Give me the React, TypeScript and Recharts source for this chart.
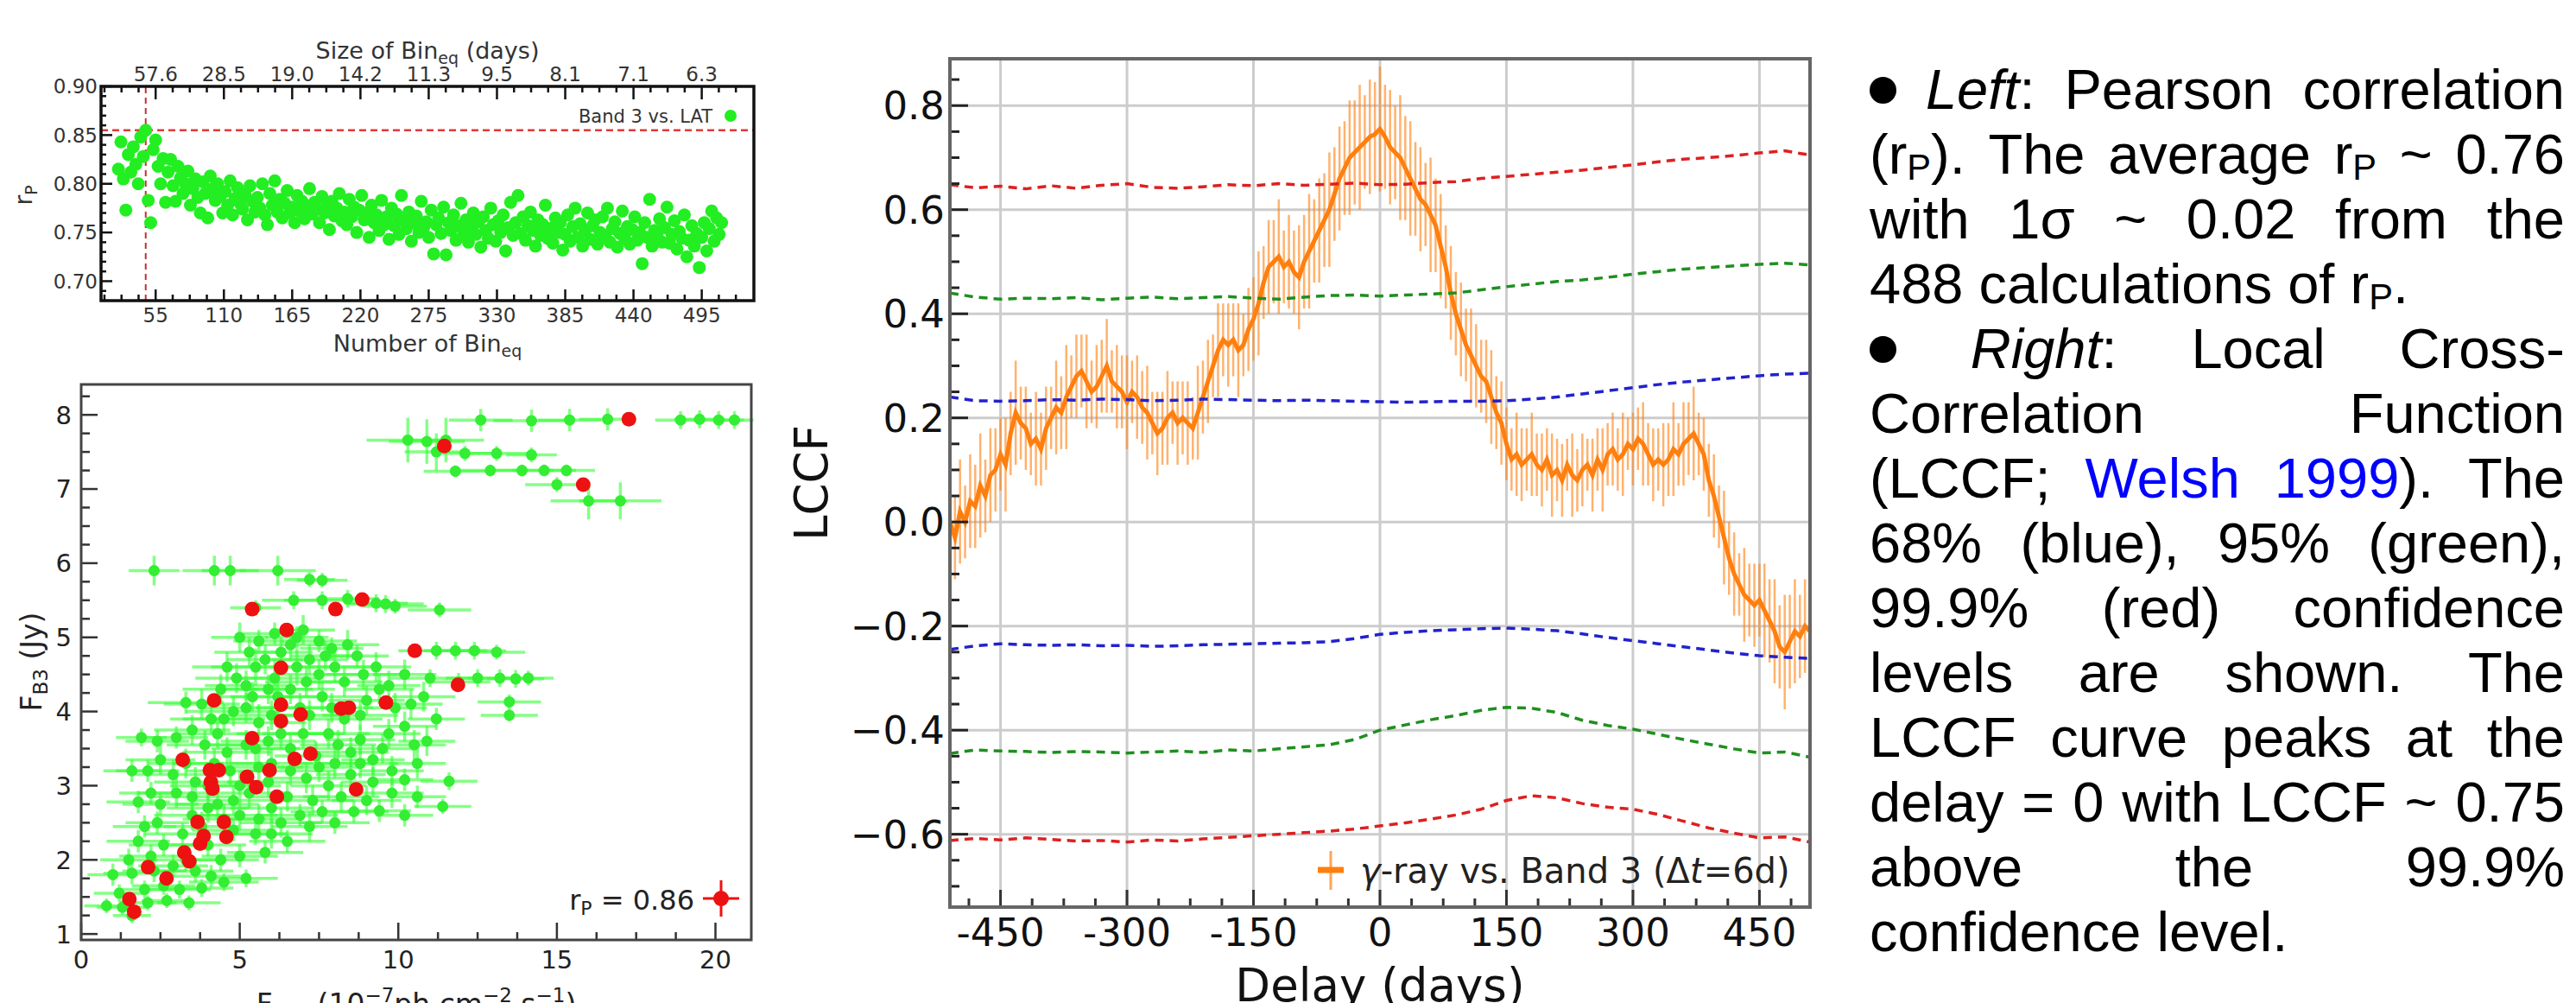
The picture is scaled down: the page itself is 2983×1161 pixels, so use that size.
import React from "react";
import {
  CartesianGrid,
  ComposedChart,
  ErrorBar,
  Line,
  ReferenceLine,
  Scatter,
  ScatterChart,
  XAxis,
  YAxis,
} from "recharts";

const MPL = "DejaVu Sans";
const SANS = "Liberation Sans, Arial, sans-serif";

// ---------- top-left: Pearson r_P vs number of equal bins ----------
const BIN_N_START = 25;
const BIN_N_STEP = 2;
// r_P in thousandths, one per N = 25, 27, ... 511
const RP_MILLI = [
  815, 843, 805, 773, 830, 812, 838, 820, 800, 848, 828, 855, 783, 760, 835, 845, 818, 800, 826, 781,
  812, 825, 798, 782, 818, 806, 790, 800, 813, 778, 795, 805, 786, 770, 802, 790, 765, 808, 795, 783,
  800, 787, 770, 792, 778, 803, 768, 785, 796, 780, 774, 789, 763, 798, 782, 771, 786, 775, 800, 768,
  758, 790, 778, 803, 771, 784, 765, 780, 793, 770, 776, 760, 788, 772, 782, 764, 777, 795, 769, 781,
  774, 760, 787, 770, 778, 753, 782, 767, 775, 790, 762, 771, 758, 784, 766, 776, 750, 773, 788, 763,
  770, 745, 778, 760, 768, 752, 783, 758, 766, 743, 775, 757, 769, 748, 788, 762, 754, 771, 741, 760,
  767, 750, 782, 755, 761, 745, 773, 728, 758, 765, 749, 776, 727, 760, 752, 768, 742, 757, 780, 748,
  763, 740, 756, 770, 748, 761, 735, 766, 752, 744, 775, 758, 741, 762, 750, 768, 731, 755, 781, 747,
  760, 788, 749, 766, 742, 757, 771, 752, 736, 763, 747, 758, 778, 744, 754, 739, 765, 750, 760, 732,
  748, 768, 741, 756, 775, 745, 759, 736, 752, 770, 743, 757, 763, 738, 750, 766, 747, 775, 740, 754,
  761, 735, 749, 772, 744, 756, 738, 753, 766, 742, 750, 718, 760, 745, 784, 736, 752, 747, 764, 740,
  755, 776, 739, 748, 762, 733, 751, 744, 768, 725, 742, 757, 736, 749, 714, 745, 760, 731, 754, 772,
  741, 765, 748, 760,
];
const RP_PEAK_N = 47;
const RP_PEAK = 0.855;
const BIN_MAJOR = [55, 110, 165, 220, 275, 330, 385, 440, 495];
const BIN_DAYS_LABELS = ["57.6", "28.5", "19.0", "14.2", "11.3", "9.5", "8.1", "7.1", "6.3"];
const RP_MAJOR = [0.7, 0.75, 0.8, 0.85, 0.9];

// ---------- bottom-left: F_B3 vs F_LAT ----------
// x, y, xerr, yerr
const FLUX_GREEN: [number, number, number, number][] = [
  [12.6, 7.93, 1.0, 0.15], [14.2, 7.92, 1.2, 0.15], [15.4, 7.93, 1.0, 0.15], [16.6, 7.94, 0.9, 0.15],
  [18.9, 7.93, 0.8, 0.12], [19.5, 7.94, 0.8, 0.12], [20.1, 7.93, 0.8, 0.12], [20.6, 7.93, 0.6, 0.12],
  [10.3, 7.66, 1.3, 0.3], [10.9, 7.64, 1.2, 0.3], [11.5, 7.66, 1.2, 0.3], [11.2, 7.5, 1.0, 0.25],
  [12.1, 7.48, 1.0, 0.1], [13.1, 7.48, 1.0, 0.1], [14.2, 7.46, 0.8, 0.1],
  [11.8, 7.24, 1.0, 0.08], [12.9, 7.25, 1.2, 0.08], [13.9, 7.25, 1.0, 0.08], [14.6, 7.25, 1.0, 0.08],
  [15.3, 7.25, 0.9, 0.08], [15.0, 7.06, 1.0, 0.1], [16.0, 6.84, 1.2, 0.25], [17.0, 6.84, 1.3, 0.25],
  [2.3, 5.9, 0.8, 0.2], [4.2, 5.9, 1.0, 0.2], [4.7, 5.9, 0.9, 0.2], [6.2, 5.9, 1.2, 0.2],
  [7.2, 5.78, 0.8, 0.1], [7.6, 5.77, 0.8, 0.1],
  [6.7, 5.5, 1.0, 0.12], [7.6, 5.5, 1.2, 0.12], [8.4, 5.52, 1.0, 0.12], [9.3, 5.46, 1.0, 0.12],
  [9.6, 5.45, 1.2, 0.12], [9.9, 5.42, 1.0, 0.1], [5.5, 5.4, 0.8, 0.1], [11.3, 5.37, 1.0, 0.1],
  [6.1, 5.05, 1.0, 0.15], [6.8, 5.0, 1.0, 0.15], [7.5, 4.95, 1.2, 0.15], [5.6, 4.95, 0.8, 0.15],
  [7.9, 4.85, 1.0, 0.15], [11.2, 4.82, 1.2, 0.12], [11.8, 4.82, 1.0, 0.12], [12.4, 4.82, 1.0, 0.12],
  [13.1, 4.8, 0.9, 0.1], [11.0, 4.45, 1.3, 0.12], [11.9, 4.4, 1.0, 0.12], [12.5, 4.45, 1.0, 0.12],
  [13.2, 4.45, 1.0, 0.12], [13.7, 4.44, 0.9, 0.12], [14.1, 4.45, 0.8, 0.1], [13.5, 4.13, 1.0, 0.1],
  [13.5, 3.95, 0.9, 0.08],
  [0.8, 1.38, 0.7, 0.1], [1.3, 1.36, 0.8, 0.1], [1.6, 1.25, 0.6, 0.1], [2.1, 1.42, 0.9, 0.1],
  [2.7, 1.45, 0.8, 0.1], [3.4, 1.42, 1.0, 0.1], [1.0, 1.8, 0.8, 0.15], [1.6, 1.82, 0.9, 0.15],
  [2.3, 1.85, 1.0, 0.15], [2.9, 1.92, 1.1, 0.15], [3.6, 1.85, 1.2, 0.15], [4.1, 1.78, 1.2, 0.15],
  [5.2, 1.75, 1.0, 0.12], [1.8, 2.25, 1.0, 0.15], [2.6, 2.2, 1.1, 0.15], [3.2, 2.35, 1.2, 0.15],
  [4.0, 2.2, 1.2, 0.15], [4.8, 2.4, 1.3, 0.15], [5.5, 2.35, 1.0, 0.15], [3.5, 2.6, 1.2, 0.2],
  [2.4, 2.5, 1.0, 0.15], [1.8, 2.78, 1.0, 0.15], [2.5, 2.75, 1.2, 0.15], [3.0, 2.9, 1.2, 0.2],
  [4.3, 2.75, 1.3, 0.2], [5.0, 2.6, 1.2, 0.2], [5.6, 2.55, 1.2, 0.2], [6.3, 2.5, 1.3, 0.2],
  [6.9, 2.6, 1.2, 0.15], [7.6, 2.65, 1.0, 0.15], [8.6, 2.65, 1.1, 0.15], [9.4, 2.66, 1.0, 0.15],
  [10.2, 2.6, 0.9, 0.15], [11.4, 2.72, 0.9, 0.1], [2.1, 3.2, 1.0, 0.15], [2.9, 3.15, 1.2, 0.2],
  [3.6, 3.05, 1.3, 0.2], [4.0, 3.0, 1.2, 0.2], [4.7, 3.2, 1.4, 0.2], [5.0, 3.0, 1.3, 0.2],
  [5.3, 2.9, 1.3, 0.2], [5.9, 3.05, 1.3, 0.2], [6.0, 3.3, 1.3, 0.2], [6.5, 2.85, 1.3, 0.2],
  [7.1, 3.1, 1.3, 0.2], [7.8, 3.0, 1.2, 0.2], [8.0, 3.3, 1.2, 0.2], [8.5, 3.15, 1.1, 0.2],
  [9.2, 3.05, 1.0, 0.2], [10.2, 3.08, 0.9, 0.15], [11.6, 3.06, 0.9, 0.12], [1.9, 3.65, 0.8, 0.12],
  [3.0, 3.65, 1.0, 0.15], [3.9, 3.55, 1.2, 0.2], [4.6, 3.45, 1.4, 0.2], [5.2, 3.55, 1.4, 0.2],
  [5.9, 3.6, 1.5, 0.2], [6.6, 3.5, 1.4, 0.2], [7.0, 3.7, 1.3, 0.2], [7.4, 3.4, 1.3, 0.2],
  [8.1, 3.55, 1.2, 0.2], [8.8, 3.62, 1.1, 0.2], [9.2, 3.35, 1.0, 0.2], [9.7, 3.7, 1.0, 0.2],
  [4.1, 3.9, 1.3, 0.2], [4.8, 4.0, 1.5, 0.2], [5.6, 3.85, 1.5, 0.25], [6.2, 4.2, 1.5, 0.25],
  [6.9, 4.05, 1.4, 0.2], [7.6, 4.2, 1.3, 0.2], [8.3, 3.9, 1.2, 0.2], [9.0, 4.15, 1.2, 0.2],
  [9.9, 4.05, 1.0, 0.2], [10.8, 4.2, 1.0, 0.2], [10.2, 3.8, 1.0, 0.2], [4.9, 4.45, 1.3, 0.2],
  [5.5, 4.6, 1.4, 0.25], [6.1, 4.45, 1.4, 0.25], [6.8, 4.6, 1.3, 0.25], [7.5, 4.5, 1.3, 0.2],
  [8.3, 4.4, 1.2, 0.2], [8.9, 4.5, 1.2, 0.2], [9.7, 4.35, 1.0, 0.2], [5.4, 4.2, 1.3, 0.2],
  [7.2, 4.7, 1.2, 0.2], [6.3, 4.8, 1.0, 0.2], [8.7, 4.75, 1.0, 0.15], [3.3, 4.12, 1.2, 0.15],
  [10.6, 3.3, 0.9, 0.2], [10.9, 3.6, 0.9, 0.2],
  [1.2, 1.55, 0.8, 0.12], [2.0, 1.6, 0.9, 0.12], [2.6, 1.65, 1.0, 0.12], [3.1, 1.6, 1.0, 0.12],
  [3.8, 1.62, 1.0, 0.12], [4.5, 1.7, 1.1, 0.12], [1.5, 2.0, 0.9, 0.15], [2.2, 2.05, 1.0, 0.15],
  [3.3, 2.0, 1.1, 0.15], [4.4, 2.0, 1.2, 0.15], [5.0, 2.05, 1.2, 0.15], [5.8, 2.1, 1.2, 0.15],
  [6.5, 2.25, 1.2, 0.15], [2.0, 2.45, 1.0, 0.15], [3.8, 2.45, 1.2, 0.2], [4.5, 2.55, 1.3, 0.2],
  [6.0, 2.35, 1.3, 0.2], [7.2, 2.45, 1.2, 0.2], [8.0, 2.5, 1.1, 0.15], [2.2, 2.9, 1.0, 0.15],
  [3.5, 2.85, 1.2, 0.2], [4.0, 2.7, 1.3, 0.2], [4.8, 2.8, 1.3, 0.2], [6.0, 2.7, 1.3, 0.2],
  [7.3, 2.8, 1.3, 0.2], [8.2, 2.85, 1.2, 0.2], [9.0, 2.8, 1.1, 0.2], [9.8, 2.9, 1.0, 0.2],
  [10.6, 2.85, 0.9, 0.15], [1.6, 3.2, 0.9, 0.15], [2.5, 3.35, 1.1, 0.2], [3.3, 3.3, 1.2, 0.2],
  [4.2, 3.3, 1.3, 0.2], [5.6, 3.25, 1.4, 0.2], [6.6, 3.2, 1.4, 0.2], [7.5, 3.25, 1.3, 0.2],
  [8.8, 3.3, 1.2, 0.2], [9.8, 3.2, 1.0, 0.2], [2.4, 3.6, 1.0, 0.15], [3.5, 3.75, 1.2, 0.2],
  [4.3, 3.7, 1.3, 0.2], [5.5, 3.5, 1.4, 0.2], [6.3, 3.7, 1.4, 0.2], [7.8, 3.7, 1.3, 0.2],
  [8.5, 3.45, 1.2, 0.2], [9.5, 3.5, 1.1, 0.2], [10.5, 3.55, 1.0, 0.2], [3.8, 4.1, 1.2, 0.2],
  [4.5, 3.9, 1.3, 0.2], [5.2, 4.05, 1.4, 0.2], [6.0, 3.95, 1.4, 0.2], [7.2, 3.95, 1.3, 0.2],
  [7.9, 4.05, 1.3, 0.2], [8.8, 3.95, 1.2, 0.2], [9.4, 4.3, 1.1, 0.2], [10.4, 4.1, 1.0, 0.2],
  [11.2, 3.9, 0.9, 0.15], [4.4, 4.3, 1.2, 0.2], [5.2, 4.35, 1.3, 0.2], [5.9, 4.3, 1.4, 0.2],
  [6.6, 4.3, 1.4, 0.2], [7.1, 4.4, 1.3, 0.2], [8.0, 4.6, 1.2, 0.2], [9.3, 4.6, 1.1, 0.2],
  [10.2, 4.5, 1.0, 0.2], [4.6, 4.6, 1.1, 0.2], [5.8, 4.7, 1.2, 0.2], [5.3, 4.8, 1.1, 0.2],
  [6.6, 4.9, 1.1, 0.2], [7.0, 5.1, 1.0, 0.2], [7.7, 4.75, 1.1, 0.2], [8.4, 4.9, 1.0, 0.2],
  [5.0, 5.0, 0.9, 0.2],
];
const FLUX_RED: [number, number][] = [
  [17.27, 7.94], [11.45, 7.58], [15.83, 7.06], [5.39, 5.38], [8.02, 5.38], [8.86, 5.51],
  [6.48, 5.1], [10.52, 4.82], [6.3, 4.59], [11.88, 4.36], [4.19, 4.15], [6.3, 4.09],
  [9.61, 4.12], [8.2, 4.04], [8.44, 4.05], [6.92, 3.96], [6.3, 3.87], [5.39, 3.64],
  [7.23, 3.43], [6.73, 3.36], [3.2, 3.35], [5.94, 3.21], [4.06, 3.21], [4.34, 3.21],
  [5.23, 3.12], [4.09, 3.05], [5.52, 2.98], [4.14, 2.96], [8.67, 2.95], [6.17, 2.85],
  [3.67, 2.51], [4.5, 2.51], [3.86, 2.32], [4.58, 2.31], [3.75, 2.22], [3.25, 2.1],
  [3.41, 1.98], [2.11, 1.9], [2.69, 1.75], [1.52, 1.47], [1.67, 1.3],
];
const FLUX_X_MAJOR = [0, 5, 10, 15, 20];
const FLUX_Y_MAJOR = [1, 2, 3, 4, 5, 6, 7, 8];

// ---------- right: LCCF ----------
const DELAY_START = -510;
const DELAY_STEP = 6;
const LCCF_VAL = [
  0.0, -0.03, 0.02, 0.0, 0.04, 0.03, 0.07, 0.05, 0.09, 0.1,
  0.13, 0.11, 0.17, 0.21, 0.19, 0.18, 0.15, 0.16, 0.14, 0.18,
  0.2, 0.22, 0.21, 0.24, 0.26, 0.28, 0.29, 0.27, 0.25, 0.26,
  0.28, 0.3, 0.27, 0.26, 0.25, 0.23, 0.25, 0.24, 0.22, 0.21,
  0.19, 0.17, 0.18, 0.2, 0.21, 0.19, 0.2, 0.19, 0.18, 0.21,
  0.24, 0.27, 0.3, 0.33, 0.35, 0.34, 0.35, 0.33, 0.34, 0.37,
  0.39, 0.42, 0.46, 0.49, 0.5, 0.51, 0.49, 0.5, 0.48, 0.47,
  0.5, 0.52, 0.54, 0.56, 0.58, 0.6, 0.63, 0.66, 0.68, 0.7,
  0.71, 0.72, 0.73, 0.74, 0.745, 0.755, 0.74, 0.72, 0.71, 0.7,
  0.68, 0.66, 0.64, 0.62, 0.61, 0.59, 0.57, 0.53, 0.49, 0.44,
  0.4, 0.37, 0.34, 0.32, 0.3, 0.28, 0.27, 0.24, 0.21, 0.19,
  0.15, 0.12, 0.13, 0.11, 0.12, 0.13, 0.11, 0.1, 0.12, 0.09,
  0.1, 0.08, 0.11, 0.09, 0.08, 0.1, 0.11, 0.09, 0.12, 0.1,
  0.13, 0.14, 0.12, 0.13, 0.15, 0.14, 0.16, 0.15, 0.13, 0.11,
  0.12, 0.11, 0.12, 0.14, 0.13, 0.15, 0.16, 0.17, 0.15, 0.13,
  0.08, 0.05, 0.01, -0.03, -0.07, -0.1, -0.12, -0.14, -0.15, -0.16,
  -0.15, -0.17, -0.19, -0.21, -0.24, -0.25, -0.23, -0.21, -0.22, -0.2,
  -0.21,
];
const LCCF_ERR = [
  0.09, 0.08, 0.1, 0.07, 0.09, 0.08, 0.1, 0.07, 0.09, 0.08,
  0.07, 0.09, 0.08, 0.1, 0.07, 0.08, 0.06, 0.09, 0.07, 0.08,
  0.06, 0.09, 0.07, 0.1, 0.06, 0.08, 0.07, 0.09, 0.06, 0.08,
  0.07, 0.09, 0.06, 0.08, 0.07, 0.09, 0.06, 0.08, 0.07, 0.09,
  0.06, 0.08, 0.07, 0.09, 0.06, 0.08, 0.07, 0.08, 0.06, 0.09,
  0.07, 0.08, 0.06, 0.09, 0.07, 0.08, 0.07, 0.09, 0.06, 0.08,
  0.08, 0.1, 0.07, 0.09, 0.08, 0.11, 0.07, 0.09, 0.08, 0.1,
  0.09, 0.11, 0.08, 0.1, 0.09, 0.11, 0.09, 0.1, 0.09, 0.11,
  0.1, 0.12, 0.09, 0.11, 0.1, 0.12, 0.1, 0.11, 0.09, 0.12,
  0.1, 0.11, 0.09, 0.1, 0.08, 0.11, 0.09, 0.1, 0.08, 0.09,
  0.08, 0.09, 0.07, 0.09, 0.08, 0.07, 0.08, 0.09, 0.07, 0.08,
  0.07, 0.06, 0.08, 0.07, 0.06, 0.08, 0.06, 0.07, 0.06, 0.08,
  0.06, 0.07, 0.05, 0.08, 0.06, 0.07, 0.05, 0.07, 0.06, 0.08,
  0.06, 0.07, 0.06, 0.08, 0.05, 0.07, 0.06, 0.08, 0.06, 0.07,
  0.06, 0.08, 0.07, 0.09, 0.06, 0.08, 0.07, 0.09, 0.06, 0.07,
  0.07, 0.08, 0.06, 0.09, 0.07, 0.08, 0.06, 0.09, 0.07, 0.08,
  0.07, 0.09, 0.08, 0.1, 0.08, 0.11, 0.09, 0.1, 0.08, 0.09,
  0.08,
];
// confidence levels, every 30 days from -510 to 510
const CONF_STEP = 30;
const CONF_UP_999 = [
  0.648, 0.642, 0.645, 0.64, 0.646, 0.641, 0.647, 0.65, 0.643, 0.641, 0.644, 0.648,
  0.646, 0.65, 0.647, 0.649, 0.651, 0.648, 0.649, 0.652, 0.654, 0.66, 0.664, 0.668,
  0.672, 0.676, 0.681, 0.686, 0.692, 0.697, 0.7, 0.704, 0.709, 0.713, 0.705,
];
const CONF_UP_95 = [
  0.44, 0.432, 0.428, 0.43, 0.429, 0.431, 0.427, 0.43, 0.432, 0.429, 0.431, 0.433,
  0.43, 0.428, 0.432, 0.435, 0.436, 0.434, 0.436, 0.438, 0.44, 0.446, 0.452, 0.457,
  0.462, 0.465, 0.47, 0.476, 0.481, 0.486, 0.489, 0.492, 0.495, 0.497, 0.494,
];
const CONF_UP_68 = [
  0.24, 0.233, 0.232, 0.233, 0.235, 0.234, 0.236, 0.235, 0.233, 0.234, 0.236, 0.235,
  0.234, 0.233, 0.234, 0.233, 0.232, 0.231, 0.23, 0.231, 0.232, 0.232, 0.233, 0.236,
  0.24, 0.246, 0.252, 0.258, 0.264, 0.269, 0.273, 0.277, 0.281, 0.284, 0.286,
];
const CONF_LO_68 = [
  -0.245, -0.238, -0.234, -0.236, -0.237, -0.236, -0.238, -0.237, -0.239, -0.238, -0.236, -0.235,
  -0.234, -0.233, -0.232, -0.23, -0.224, -0.216, -0.212, -0.209, -0.207, -0.205, -0.204, -0.206,
  -0.209, -0.215, -0.222, -0.228, -0.234, -0.24, -0.246, -0.252, -0.257, -0.26, -0.262,
];
const CONF_LO_95 = [
  -0.445, -0.438, -0.44, -0.441, -0.443, -0.441, -0.442, -0.444, -0.442, -0.44, -0.443, -0.438,
  -0.44, -0.436, -0.432, -0.428, -0.418, -0.4, -0.39, -0.38, -0.372, -0.362, -0.356, -0.358,
  -0.366, -0.381, -0.391, -0.398, -0.408, -0.418, -0.427, -0.436, -0.444, -0.442, -0.452,
];
const CONF_LO_999 = [
  -0.612, -0.608, -0.611, -0.607, -0.61, -0.613, -0.612, -0.615, -0.611, -0.613, -0.609, -0.606,
  -0.603, -0.6, -0.597, -0.594, -0.59, -0.584, -0.578, -0.571, -0.563, -0.552, -0.535, -0.526,
  -0.53, -0.541, -0.548, -0.552, -0.562, -0.575, -0.588, -0.598, -0.607, -0.605, -0.615,
];
const DELAY_MAJOR = [-450, -300, -150, 0, 150, 300, 450];
const LCCF_MAJOR = [-0.6, -0.4, -0.2, 0, 0.2, 0.4, 0.6, 0.8];

// ---------- helpers ----------
function steps(a: number, b: number, s: number) {
  const out: number[] = [];
  for (let v = a; v <= b + 1e-9; v += s) out.push(+v.toFixed(4));
  return out;
}

type TickOpt = {
  majors: number[];
  major: number;
  minor: number;
  stroke: string;
  sw: number;
  size: number;
  gap: number;
  color: string;
  fmt: (v: number, i: number) => string;
};

function axisTick(side: "bottom" | "top" | "left", o: TickOpt) {
  return (props: any) => {
    const { x, y, payload } = props;
    const v = Number(payload.value);
    const mi = o.majors.findIndex((m) => Math.abs(m - v) < 1e-6);
    const len = mi >= 0 ? o.major : o.minor;
    const ln = { stroke: o.stroke, strokeWidth: o.sw };
    const tp = { fontFamily: MPL, fontSize: o.size, fill: o.color };
    if (side === "bottom")
      return (
        <g>
          <line x1={x} x2={x} y1={y} y2={y - len} {...ln} />
          {mi >= 0 && (
            <text x={x} y={y + o.gap} textAnchor="middle" {...tp}>
              {o.fmt(v, mi)}
            </text>
          )}
        </g>
      );
    if (side === "top")
      return (
        <g>
          <line x1={x} x2={x} y1={y} y2={y + len} {...ln} />
          {mi >= 0 && (
            <text x={x} y={y - o.gap} textAnchor="middle" {...tp}>
              {o.fmt(v, mi)}
            </text>
          )}
        </g>
      );
    return (
      <g>
        <line x1={x} x2={x + len} y1={y} y2={y} {...ln} />
        {mi >= 0 && (
          <text x={x - o.gap} y={y + o.size * 0.36} textAnchor="end" {...tp}>
            {o.fmt(v, mi)}
          </text>
        )}
      </g>
    );
  };
}

const noLine = { tickSize: 0, tickMargin: 0, tickLine: false, axisLine: false, interval: 0 as const };

// ---------- panels ----------
function PearsonPanel() {
  const data = RP_MILLI.map((m, i) => ({ x: BIN_N_START + i * BIN_N_STEP, y: m / 1000 }));
  const xt = steps(13.75, 530, 13.75);
  const common = { majors: BIN_MAJOR, stroke: "#111", sw: 2.5, size: 23, color: "#333" };
  return (
    <ScatterChart width={900} height={420} margin={{ top: 0, right: 27, bottom: 0, left: 0 }}>
      <XAxis
        xAxisId="b" dataKey="x" type="number" domain={[11, 537]} allowDataOverflow ticks={xt} height={72}
        {...noLine}
        tick={axisTick("bottom", { ...common, major: 13, minor: 7, gap: 25, fmt: (v) => String(v) })}
      />
      <XAxis
        xAxisId="t" dataKey="x" orientation="top" type="number" domain={[11, 537]} allowDataOverflow ticks={xt}
        height={100} {...noLine}
        tick={axisTick("top", { ...common, major: 15, minor: 7, gap: 6, fmt: (_v, i) => BIN_DAYS_LABELS[i] })}
      />
      <YAxis
        dataKey="y" type="number" domain={[0.68, 0.9]} allowDataOverflow ticks={steps(0.69, 0.9, 0.01)} width={117}
        {...noLine}
        tick={axisTick("left", { ...common, majors: RP_MAJOR, major: 13, minor: 6, gap: 4, fmt: (v) => v.toFixed(2) })}
      />
      <Scatter
        xAxisId="b" data={data} isAnimationActive={false}
        shape={(p: any) => <circle cx={p.cx} cy={p.cy} r={7.5} fill="#22ee22" />}
      />
      <ReferenceLine xAxisId="b" x={RP_PEAK_N} stroke="#c43030" strokeWidth={2} strokeDasharray="7 5" />
      <ReferenceLine xAxisId="b" y={RP_PEAK} stroke="#e03a3a" strokeWidth={2.5} strokeDasharray="8 5" />
    </ScatterChart>
  );
}

function FluxPanel() {
  const green = FLUX_GREEN.map(([x, y, ex, ey]) => ({ x, y, ex, ey }));
  const red = FLUX_RED.map(([x, y]) => ({ x, y }));
  const common = { stroke: "#333", sw: 2.5, size: 29, color: "#222" };
  return (
    <ScatterChart width={900} height={741} margin={{ top: 25, right: 30, bottom: 0, left: 0 }}>
      <XAxis
        dataKey="x" type="number" domain={[0, 21.13]} allowDataOverflow ticks={steps(0, 21, 1.25)} height={73}
        {...noLine}
        tick={axisTick("bottom", { ...common, majors: FLUX_X_MAJOR, major: 20, minor: 9, gap: 33, fmt: (v) => String(v) })}
      />
      <YAxis
        dataKey="y" type="number" domain={[0.92, 8.41]} allowDataOverflow ticks={steps(1, 8.25, 0.25)} width={94}
        {...noLine}
        tick={axisTick("left", { ...common, majors: FLUX_Y_MAJOR, major: 19, minor: 10, gap: 11, fmt: (v) => String(v) })}
      />
      <Scatter
        data={green} isAnimationActive={false}
        shape={(p: any) => <circle cx={p.cx} cy={p.cy} r={6.5} fill="#33ee33" />}
      >
        <ErrorBar dataKey="ex" direction="x" width={0} stroke="#33ff33" strokeOpacity={0.6} strokeWidth={3.5} isAnimationActive={false} />
        <ErrorBar dataKey="ey" direction="y" width={0} stroke="#33ff33" strokeOpacity={0.6} strokeWidth={3.5} isAnimationActive={false} />
      </Scatter>
      <Scatter
        data={red} isAnimationActive={false}
        shape={(p: any) => <circle cx={p.cx} cy={p.cy} r={8.5} fill="#ee1111" />}
      />
    </ScatterChart>
  );
}

function LccfPanel() {
  const rows: any[] = LCCF_VAL.map((c, i) => ({ d: DELAY_START + i * DELAY_STEP, c, e: LCCF_ERR[i] }));
  const per = CONF_STEP / DELAY_STEP;
  CONF_UP_999.forEach((_, k) => {
    const r = rows[k * per];
    r.u999 = CONF_UP_999[k];
    r.u95 = CONF_UP_95[k];
    r.u68 = CONF_UP_68[k];
    r.l68 = CONF_LO_68[k];
    r.l95 = CONF_LO_95[k];
    r.l999 = CONF_LO_999[k];
  });
  const conf = [
    { key: "u999", color: "#dd2020" },
    { key: "u95", color: "#1f8f1f" },
    { key: "u68", color: "#2222cc" },
    { key: "l68", color: "#2222cc" },
    { key: "l95", color: "#1f8f1f" },
    { key: "l999", color: "#dd2020" },
  ];
  const fmtY = (v: number) => (v < 0 ? "\u2212" + Math.abs(v).toFixed(1) : v.toFixed(1));
  return (
    <ComposedChart width={1150} height={1161} data={rows} margin={{ top: 68, right: 14, bottom: 0, left: 0 }}>
      <CartesianGrid stroke="#cccccc" strokeWidth={3} horizontalValues={LCCF_MAJOR} verticalValues={DELAY_MAJOR} />
      <XAxis
        dataKey="d" type="number" domain={[-510, 510]} allowDataOverflow ticks={steps(-487.5, 490, 37.5)} height={111}
        {...noLine}
        tick={axisTick("bottom", { majors: DELAY_MAJOR, major: 20, minor: 10, stroke: "#333", sw: 3, size: 45, gap: 45, color: "#111", fmt: (v) => String(v) })}
      />
      <YAxis
        type="number" domain={[-0.74, 0.89]} allowDataOverflow ticks={steps(-0.7, 0.85, 0.05)} width={140}
        {...noLine}
        tick={axisTick("left", { majors: LCCF_MAJOR, major: 21, minor: 11, stroke: "#222", sw: 3, size: 45, gap: 6, color: "#111", fmt: fmtY })}
      />
      <Line dataKey="c" type="linear" stroke="#ff7f0e" strokeWidth={5} dot={false} isAnimationActive={false}>
        <ErrorBar dataKey="e" direction="y" width={0} stroke="#ff7f0e" strokeOpacity={0.6} strokeWidth={2.5} isAnimationActive={false} />
      </Line>
      {conf.map((c) => (
        <Line
          key={c.key} dataKey={c.key} type="linear" stroke={c.color} strokeWidth={3.5} strokeDasharray="10 7"
          dot={false} connectNulls isAnimationActive={false}
        />
      ))}
    </ComposedChart>
  );
}

function Overlay() {
  const t = { fontFamily: MPL };
  return (
    <svg width={2983} height={1161} style={{ position: "absolute", left: 0, top: 0, pointerEvents: "none" }}>
      {/* panel 1 */}
      <rect x={117} y={100} width={756} height={248} fill="none" stroke="#111" strokeWidth={3.5} />
      <text x={495} y={68} textAnchor="middle" fontSize={27} fill="#333" {...t}>
        Size of Bin<tspan fontSize={19} dy={6}>eq</tspan>
        <tspan dy={-6}> (days)</tspan>
      </text>
      <text x={495} y={407} textAnchor="middle" fontSize={27} fill="#333" {...t}>
        Number of Bin<tspan fontSize={19} dy={6}>eq</tspan>
      </text>
      <text transform="translate(37,226) rotate(-90)" textAnchor="middle" fontSize={29} fill="#333" {...t}>
        r<tspan fontSize={19} dy={6}>P</tspan>
      </text>
      <text x={825} y={142} textAnchor="end" fontSize={21} fill="#333" {...t}>Band 3 vs. LAT</text>
      <circle cx={846} cy={134} r={7} fill="#22ee22" />

      {/* panel 2 */}
      <rect x={94} y={445} width={776} height={643} fill="none" stroke="#444" strokeWidth={3} />
      <text transform="translate(48,766) rotate(-90)" textAnchor="middle" fontSize={33} fill="#222" {...t}>
        F<tspan fontSize={23} dy={7}>B3</tspan>
        <tspan dy={-7}> (Jy)</tspan>
      </text>
      <text x={482} y={1174} textAnchor="middle" fontSize={33} fill="#222" {...t}>
        F<tspan fontSize={23} dy={7}>LAT</tspan>
        <tspan dy={-7}> (10</tspan>
        <tspan fontSize={23} dy={-14}>{"\u22127"}</tspan>
        <tspan dy={14}>ph cm</tspan>
        <tspan fontSize={23} dy={-14}>{"\u22122"}</tspan>
        <tspan dy={14}> s</tspan>
        <tspan fontSize={23} dy={-14}>{"\u22121"}</tspan>
        <tspan dy={14}>)</tspan>
      </text>
      <text x={804} y={1053} textAnchor="end" fontSize={32} fill="#222" {...t}>
        r<tspan fontSize={22} dy={6}>P</tspan>
        <tspan dy={-6}> = 0.86</tspan>
      </text>
      <line x1={814} x2={856} y1={1040} y2={1040} stroke="#ee1111" strokeWidth={3} />
      <line x1={835} x2={835} y1={1019} y2={1061} stroke="#ee1111" strokeWidth={3} />
      <circle cx={835} cy={1040} r={9} fill="#ee1111" />

      {/* panel 3 */}
      <rect x={1100} y={68} width={996} height={982} fill="none" stroke="#666" strokeWidth={4} />
      <text transform="translate(958,559) rotate(-90)" textAnchor="middle" fontSize={53} fill="#111" {...t}>LCCF</text>
      <text x={1598} y={1159} textAnchor="middle" fontSize={53} fill="#111" {...t}>Delay (days)</text>
      <line x1={1541} x2={1541} y1={985} y2={1030} stroke="#ff7f0e" strokeOpacity={0.7} strokeWidth={3} />
      <line x1={1526} x2={1556} y1={1007} y2={1007} stroke="#ff7f0e" strokeWidth={7} />
      <text x={1575} y={1022} fontSize={40} fill="#222" {...t}>
        <tspan fontStyle="italic">{"\u03b3"}</tspan>-ray vs. Band 3 ({"\u0394"}
        <tspan fontStyle="italic">t</tspan>=6d)
      </text>
    </svg>
  );
}

const Sub = ({ children }: { children: React.ReactNode }) => (
  <span style={{ fontSize: "0.64em", position: "relative", top: "0.16em" }}>{children}</span>
);
const Bullet = () => (
  <span
    style={{
      display: "inline-block", width: 31, height: 31, borderRadius: "50%", background: "#000",
      transform: "translateY(-6px)",
    }}
  />
);
const Blue = ({ children }: { children: React.ReactNode }) => <span style={{ color: "#0000ff" }}>{children}</span>;

function Caption() {
  const lines: { w: React.ReactNode[]; j: boolean }[] = [
    { w: [<Bullet />, <span><i>Left</i>:</span>, "Pearson", "correlation"], j: true },
    { w: [<span>(r<Sub>P</Sub>).</span>, "The", "average", <span>r<Sub>P</Sub></span>, "~", "0.76"], j: true },
    { w: ["with", "1\u03c3", "~", "0.02", "from", "the"], j: true },
    { w: [<span>488 calculations of r<Sub>P</Sub>.</span>], j: false },
    { w: [<Bullet />, <span><i>Right</i>:</span>, "Local", "Cross-"], j: true },
    { w: ["Correlation", "Function"], j: true },
    { w: ["(LCCF;", <Blue>Welsh</Blue>, <span><Blue>1999</Blue>).</span>, "The"], j: true },
    { w: ["68%", "(blue),", "95%", "(green),"], j: true },
    { w: ["99.9%", "(red)", "confidence"], j: true },
    { w: ["levels", "are", "shown.", "The"], j: true },
    { w: ["LCCF", "curve", "peaks", "at", "the"], j: true },
    { w: ["delay", "=", "0", "with", "LCCF", "~", "0.75"], j: true },
    { w: ["above", "the", "99.9%"], j: true },
    { w: ["confidence level."], j: false },
  ];
  return (
    <div
      style={{
        position: "absolute", left: 2165, top: 66, width: 805, fontFamily: SANS, fontSize: 65,
        lineHeight: "75px", color: "#000",
      }}
    >
      {lines.map((l, i) => (
        <div
          key={i}
          style={{
            display: l.j ? "flex" : "block", justifyContent: "space-between", alignItems: "baseline",
            height: 75, whiteSpace: "nowrap",
          }}
        >
          {l.w.map((w, k) => (
            <span key={k}>{w}</span>
          ))}
        </div>
      ))}
    </div>
  );
}

export default function App() {
  return (
    <div style={{ position: "absolute", left: 0, top: 0, width: 2983, height: 1161, background: "#fff", overflow: "hidden" }}>
      <div style={{ position: "absolute", left: 0, top: 0 }}>
        <PearsonPanel />
      </div>
      <div style={{ position: "absolute", left: 0, top: 420 }}>
        <FluxPanel />
      </div>
      <div style={{ position: "absolute", left: 960, top: 0 }}>
        <LccfPanel />
      </div>
      <Overlay />
      <Caption />
    </div>
  );
}
